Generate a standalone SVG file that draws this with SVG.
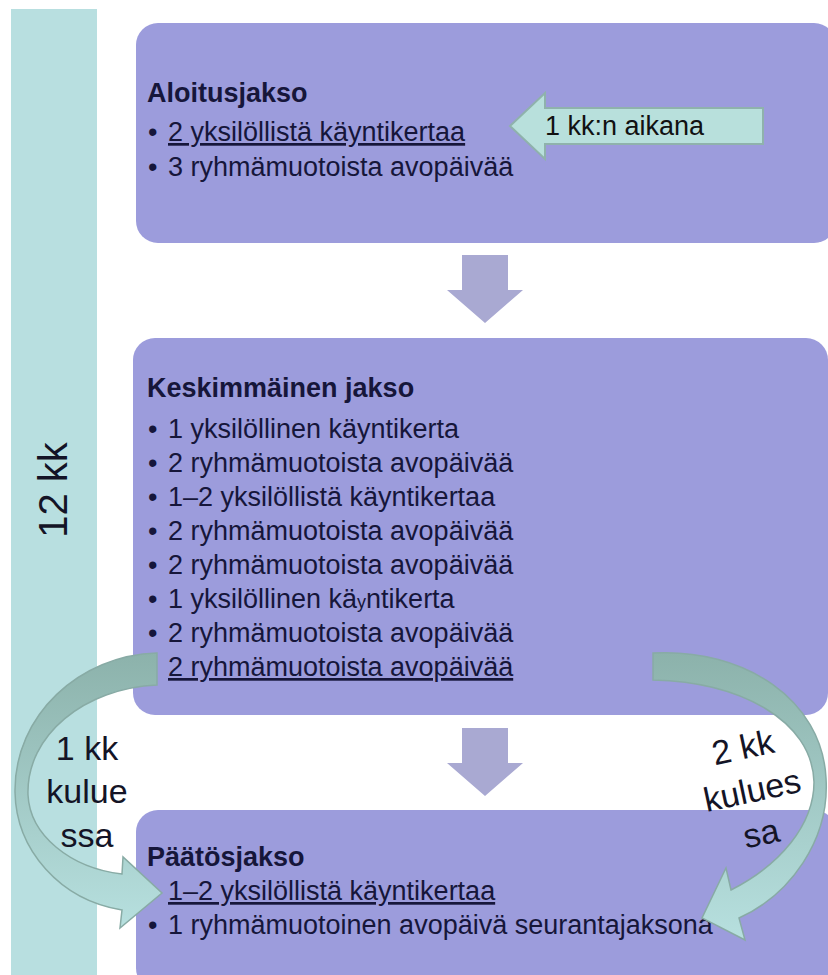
<svg xmlns="http://www.w3.org/2000/svg" width="828" height="975" viewBox="0 0 828 975">
<defs>
<style>
.box{fill:#9c9cdc;}
.txt{font-family:"Liberation Sans",Arial,sans-serif;font-size:27px;fill:#16163a;}
.ttl{font-family:"Liberation Sans",Arial,sans-serif;font-size:27px;font-weight:bold;fill:#16163a;}
.ul{text-decoration:underline;}
.lbl{font-family:"Liberation Sans",Arial,sans-serif;font-size:34px;fill:#141426;text-anchor:middle;}
.down{fill:#a9a9d2;}
.curve{stroke:#88aba5;stroke-width:1.5;}
</style>
<linearGradient id="gL" x1="0" y1="0" x2="0" y2="1">
<stop offset="0" stop-color="#8cb2ab"/>
<stop offset="1" stop-color="#b7e0df"/>
</linearGradient>
<linearGradient id="gR" x1="0" y1="0" x2="0" y2="1">
<stop offset="0" stop-color="#8cb2ab"/>
<stop offset="1" stop-color="#b7e0df"/>
</linearGradient>
</defs>
<rect width="828" height="975" fill="#ffffff"/>
<g id="timeline">
<rect x="11" y="9" width="86" height="970" fill="#b8dfe0"/>
<text class="lbl" style="font-size:40px" transform="translate(67,490) rotate(-90)" x="0" y="0">12 kk</text>
</g>
<g id="aloitusjakso">
<rect class="box" x="136" y="23" width="700" height="220" rx="22"/>
<text class="ttl" x="147" y="102">Aloitusjakso</text>
<text class="txt" x="148" y="141">•</text>
<text class="txt ul" x="168" y="141">2 yksilöllistä käyntikertaa</text>
<text class="txt" x="148" y="176">•</text>
<text class="txt" x="168" y="176">3 ryhmämuotoista avopäivää</text>
</g>
<g id="kk1-arrow">
<path d="M510,126 L545,93 L545,108 L763,108 L763,144 L545,144 L545,159 Z" fill="#b8e0dc" stroke="#8fb2ac" stroke-width="2"/>
<text class="txt" x="545" y="135" style="fill:#111">1 kk:n aikana</text>
</g>
<g id="keskimmainen">
<rect class="box" x="133" y="338" width="695" height="377" rx="22"/>
<text class="ttl" x="147" y="397">Keskimmäinen jakso</text>
<text class="txt" x="148" y="438">•</text>
<text class="txt" x="168" y="438">1 yksilöllinen käyntikerta</text>
<text class="txt" x="148" y="472">•</text>
<text class="txt" x="168" y="472">2 ryhmämuotoista avopäivää</text>
<text class="txt" x="148" y="506">•</text>
<text class="txt" x="168" y="506">1–2 yksilöllistä käyntikertaa</text>
<text class="txt" x="148" y="540">•</text>
<text class="txt" x="168" y="540">2 ryhmämuotoista avopäivää</text>
<text class="txt" x="148" y="574">•</text>
<text class="txt" x="168" y="574">2 ryhmämuotoista avopäivää</text>
<text class="txt" x="148" y="608">•</text>
<text class="txt" x="168" y="608">1 yksilöllinen kä<tspan style="font-size:18px">y</tspan>ntikerta</text>
<text class="txt" x="148" y="642">•</text>
<text class="txt" x="168" y="642">2 ryhmämuotoista avopäivää</text>
<text class="txt ul" x="168" y="676">2 ryhmämuotoista avopäivää</text>
</g>
<g id="paatosjakso">
<rect class="box" x="136" y="810" width="700" height="180" rx="22"/>
<text class="ttl" x="147" y="866">Päätösjakso</text>
<text class="txt ul" x="168" y="900">1–2 yksilöllistä käyntikertaa</text>
<text class="txt" x="148" y="934">•</text>
<text class="txt" x="168" y="934">1 ryhmämuotoinen avopäivä seurantajaksona</text>
</g>
<g id="connectors">
<path class="down" d="M462,255 L508,255 L508,290 L523,290 L485,323 L447,290 L462,290 Z"/>
<path class="down" d="M462,728 L508,728 L508,763 L523,763 L485,796 L447,763 L462,763 Z"/>
<path class="curve" fill="url(#gL)" d="M157,653 C80,655 14,715 15,792 C16,850 60,900 122,910 L120,928 L162,893 L123,857 L122,874 C70,868 30,835 28,795 C26,735 85,688 157,685 Z"/>
<path class="curve" fill="url(#gR)" d="M653,653 C745,648 822,700 826,778 C830,840 790,895 739,918 L745,940 L702,918 L726,868 L731,890 C780,865 814,825 814,782 C812,720 740,682 653,680 Z"/>
</g>
<g id="label-1kk">
<text class="lbl" x="87" y="760">1 kk</text>
<text class="lbl" x="87" y="803">kulue</text>
<text class="lbl" x="87" y="847">ssa</text>
</g>
<g id="label-2kk" transform="rotate(-12,752,790)">
<text class="lbl" x="752" y="758">2 kk</text>
<text class="lbl" x="752" y="802">kulues</text>
<text class="lbl" x="752" y="846">sa</text>
</g>
</svg>
